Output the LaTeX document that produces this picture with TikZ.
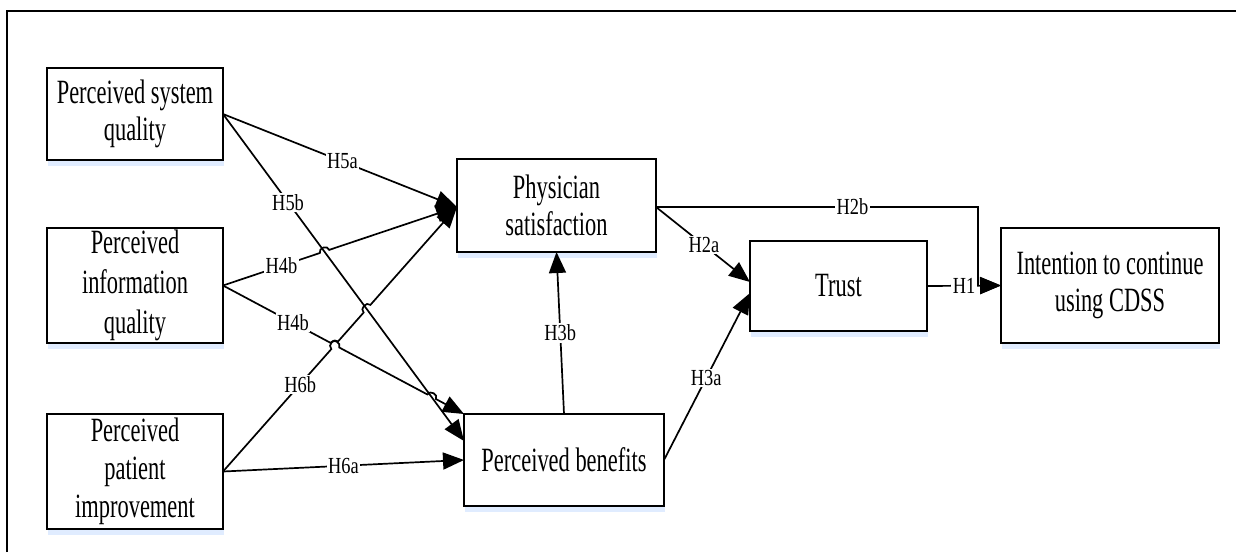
\documentclass[tikz,border=0pt]{standalone}
\usepackage{fontspec}
\setmainfont{Liberation Serif}[FakeStretch=0.66]
\newfontfamily\lblfont{Liberation Serif}[FakeStretch=0.8]
\usetikzlibrary{arrows.meta,shadows,calc}
\begin{document}
\begin{tikzpicture}[x=1pt,y=-1pt,
  box/.style={draw, line width=1.8pt, fill=white, align=center, inner sep=0pt, outer sep=0pt,
    font=\fontsize{34}{37}\selectfont,
    drop shadow={shadow xshift=1pt, shadow yshift=-6pt, opacity=0.12, fill=blue!60!cyan}},
  lbl/.style={fill=white, inner sep=1.5pt, font=\lblfont\fontsize{23}{25}\selectfont},
  conn/.style={line width=1.7pt, -{Triangle[length=21pt,width=17pt]}},
  plain/.style={line width=1.7pt},
  hop/.style={bend left=90, looseness=1.4}]
\useasboundingbox (0,0) rectangle (1236,552);
\coordinate (f1) at (7,552);
\coordinate (f2) at (7,11);
\coordinate (f3) at (1236,11);
\draw[line width=2pt] (f1) -- (f2) -- (f3);

\node[box, minimum width=176pt, minimum height=92pt] (PSQ) at (135,114) {Perceived system\\quality};
\node[box, minimum width=176pt, minimum height=115pt, font=\fontsize{34}{40}\selectfont] (PIQ) at (135,285.5) {Perceived\\information\\quality};
\node[box, minimum width=176pt, minimum height=115pt, font=\fontsize{34}{38}\selectfont] (PPI) at (135,471.5) {Perceived\\patient\\improvement};
\node[box, minimum width=199pt, minimum height=93pt] (PS) at (556.5,205.5) {Physician\\satisfaction};
\node[box, minimum width=200pt, minimum height=92pt] (PB) at (564,460) {Perceived benefits};
\node[box, minimum width=177pt, minimum height=90pt] (TR) at (838.5,286) {Trust};
\node[box, minimum width=218pt, minimum height=115pt] (INT) at (1110,285.5) {Intention to continue\\using CDSS};

\coordinate (c2b) at (978,207);
\coordinate (c2bd) at (978,285.5);

% to physician satisfaction
\draw[conn] (PSQ.east) -- ([yshift=-1.5pt]PS.west);
\draw[conn] (PIQ.east) -- ($(PIQ.east)!0.414!([yshift=-1.5pt]PS.west)$)
   to[hop] ($(PIQ.east)!0.454!([yshift=-1.5pt]PS.west)$) -- ([yshift=-1.5pt]PS.west);
\draw[conn] (PPI.east) -- ($(PPI.east)!0.463!([yshift=-1.5pt]PS.west)$)
   to[hop] ($(PPI.east)!0.492!([yshift=-1.5pt]PS.west)$)
   -- ($(PPI.east)!0.601!([yshift=-1.5pt]PS.west)$)
   to[hop] ($(PPI.east)!0.630!([yshift=-1.5pt]PS.west)$) -- ([yshift=-1.5pt]PS.west);
% to perceived benefits
\draw[conn] (PSQ.east) -- ([yshift=19pt]PB.west);
\draw[conn] (PIQ.east) -- ($(PIQ.east)!0.446!(PB.north west)$)
   to[hop] ($(PIQ.east)!0.482!(PB.north west)$)
   -- ($(PIQ.east)!0.848!(PB.north west)$)
   to[hop] ($(PIQ.east)!0.884!(PB.north west)$) -- (PB.north west);
\draw[conn] (PPI.east) -- (PB.west);
% middle
\draw[conn] (PB.north) -- (PS.south);
\draw[conn] ([yshift=-1.5pt]PS.east) -- ([yshift=4pt]TR.west);
\draw[conn] (PB.east) -- ([yshift=-7pt]TR.west);
% to intention
\draw[plain] ([yshift=-1.5pt]PS.east) -- (c2b) -- (c2bd);
\draw[conn] (c2bd) -- (INT.west);
\draw[conn] (TR.east) -- (INT.west);

% labels
\path (PSQ.east) -- node[lbl,pos=0.51]{H5a} ([yshift=-1.5pt]PS.west);
\path (PIQ.east) -- node[lbl,pos=0.25]{H4b} ([yshift=-1.5pt]PS.west);
\path (PPI.east) -- node[lbl,pos=0.33]{H6b} ([yshift=-1.5pt]PS.west);
\path (PSQ.east) -- node[lbl,pos=0.27]{H5b} ([yshift=19pt]PB.west);
\path (PIQ.east) -- node[lbl,pos=0.29]{H4b} (PB.north west);
\path (PPI.east) -- node[lbl,pos=0.5]{H6a} (PB.west);
\path (PB.north) -- node[lbl,pos=0.5]{H3b} (PS.south);
\path ([yshift=-1.5pt]PS.east) -- node[lbl,pos=0.51]{H2a} ([yshift=4pt]TR.west);
\path (PB.east) -- node[lbl,pos=0.49]{H3a} ([yshift=-7pt]TR.west);
\path ([yshift=-1.5pt]PS.east) -- node[lbl,pos=0.61]{H2b} (c2b);
\path (TR.east) -- node[lbl,pos=0.5]{H1} (INT.west);
\end{tikzpicture}
\end{document}
